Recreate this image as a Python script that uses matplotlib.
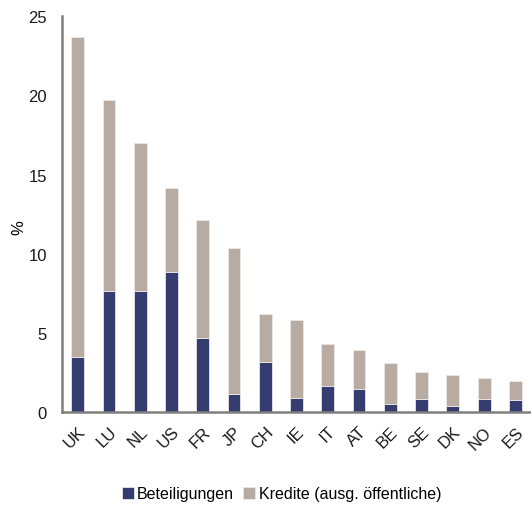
import numpy as np
import matplotlib.pyplot as plt

plt.rcParams['font.family'] = ['Liberation Sans', 'DejaVu Sans']

# Werte in %
countries = ['UK', 'LU', 'NL', 'US', 'FR', 'JP', 'CH', 'IE', 'IT', 'AT', 'BE', 'SE', 'DK', 'NO', 'ES']
beteiligungen = [3.47, 7.64, 7.64, 8.84, 4.67, 1.14, 3.16, 0.90, 1.68, 1.50, 0.50, 0.84, 0.42, 0.82, 0.78]
gesamt = [23.7, 19.7, 17.0, 14.14, 12.12, 10.4, 6.19, 5.8, 4.31, 3.91, 3.09, 2.57, 2.34, 2.15, 2.0]
kredite = [g - b for g, b in zip(gesamt, beteiligungen)]

c_bet = '#353c70'
c_kre = '#b8aba1'

fig = plt.figure(figsize=(5.31, 5.06), dpi=100)
ax = fig.add_axes([0.117, 0.183, 0.883, 0.783])

x = np.arange(len(countries))
w = 0.41
ax.bar(x, beteiligungen, w, color=c_bet, edgecolor='#e8e4ea', linewidth=0.6, label='Beteiligungen')
ax.bar(x, kredite, w, bottom=beteiligungen, color=c_kre, edgecolor='#ece8e4', linewidth=0.6,
       label='Kredite (ausg. öffentliche)')

ax.set_xlim(-0.5, 14.5)
ax.set_ylim(0, 25)
ax.set_yticks([0, 5, 10, 15, 20, 25])
ax.set_xticks(x)
ax.set_xticklabels(countries, rotation=45, ha='right', rotation_mode='anchor')
ax.tick_params(axis='both', length=0, labelsize=12, colors='#1a1a1a')
ax.tick_params(axis='y', pad=11)
ax.tick_params(axis='x', pad=8)
ax.set_ylabel('%', fontsize=12)
ax.yaxis.set_label_coords(-0.077, 0.47)

for s in ['top', 'right']:
    ax.spines[s].set_visible(False)
for s in ['left', 'bottom']:
    ax.spines[s].set_color('#808080')
    ax.spines[s].set_linewidth(1.8)

fig.legend(loc='center', bbox_to_anchor=(0.53, 0.022), ncol=2, frameon=False,
           fontsize=11.5, handlelength=0.75, handleheight=0.75, handletextpad=0.2,
           columnspacing=0.6, borderpad=0)

fig.savefig('out.png', dpi=100)
